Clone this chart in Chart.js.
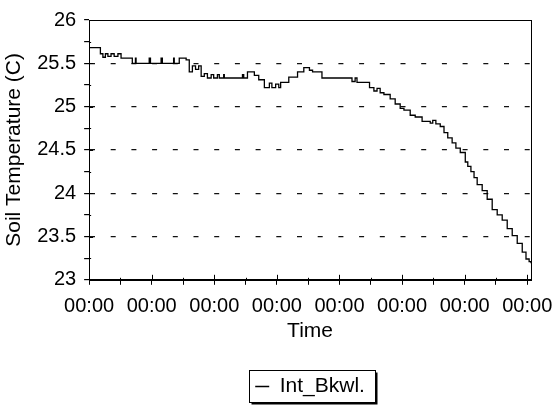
<!DOCTYPE html>
<html>
<head>
<meta charset="utf-8">
<script src="https://cdn.jsdelivr.net/npm/chart.js@4"></script>
<style>
  body { margin: 0; background: #fff; }
  #wrap { width: 558px; height: 418px; }
</style>
</head>
<body>
<div id="wrap"><canvas id="soilChart"></canvas></div>
<script>
// time axis position (in tick units) where each reading starts
const times = [
    0.00, 0.18, 0.22, 0.26, 0.30, 0.35, 0.40, 0.46, 0.51, 0.69, 0.74, 0.75, 0.96, 0.98,
    1.15, 1.17, 1.35, 1.36, 1.44, 1.55, 1.60, 1.65, 1.70, 1.75, 1.79, 1.84, 1.89, 1.95,
    1.99, 2.05, 2.08, 2.15, 2.16, 2.45, 2.47, 2.53, 2.64, 2.71, 2.80, 2.88, 2.92, 2.98,
    3.03, 3.06, 3.19, 3.33, 3.43, 3.52, 3.57, 3.72, 4.20, 4.25, 4.28, 4.48, 4.55, 4.60,
    4.65, 4.71, 4.81, 4.89, 4.97, 5.03, 5.13, 5.21, 5.32, 5.45, 5.49, 5.54, 5.61, 5.67,
    5.73, 5.80, 5.86, 5.93, 6.01, 6.05, 6.10, 6.15, 6.20, 6.28, 6.36, 6.44, 6.52, 6.60,
    6.68, 6.76, 6.84, 6.92, 6.98, 7.03, 7.06
];
const temps = [
    25.68, 25.61, 25.57, 25.61, 25.58, 25.61, 25.58, 25.61, 25.56, 25.50, 25.56, 25.50, 25.56, 25.50,
    25.56, 25.50, 25.56, 25.50, 25.56, 25.54, 25.40, 25.47, 25.43, 25.47, 25.35, 25.38, 25.33, 25.37,
    25.33, 25.37, 25.33, 25.37, 25.33, 25.37, 25.33, 25.40, 25.36, 25.31, 25.22, 25.27, 25.22, 25.26,
    25.22, 25.28, 25.34, 25.40, 25.45, 25.42, 25.40, 25.33, 25.29, 25.33, 25.28, 25.22, 25.18, 25.21,
    25.16, 25.14, 25.09, 25.03, 24.98, 24.96, 24.90, 24.88, 24.83, 24.81, 24.84, 24.80, 24.77, 24.70,
    24.64, 24.58, 24.52, 24.47, 24.36, 24.31, 24.25, 24.18, 24.10, 24.03, 23.93, 23.81, 23.75, 23.69,
    23.59, 23.51, 23.42, 23.32, 23.24, 23.21, 23.19
];
const tickLabels = ['00:00', '00:00', '00:00', '00:00', '00:00', '00:00', '00:00', '00:00'];

const FONT = "'Liberation Sans', Arial, Helvetica, sans-serif";

const isStep = (v, s) => Math.abs(v / s - Math.round(v / s)) < 1e-6;

// plot frame, inner half of the crossing tick marks, boxed legend with a drop shadow
const framePlugin = {
    id: 'frame',
    beforeDraw(chart) {
        const ctx = chart.ctx;
        const hb = chart.legend.legendHitBoxes[0];
        if (!hb) return;
        const x = Math.round(hb.left - 6) + 0.5;
        const y = Math.round(hb.top - 6) + 0.5;
        const w = Math.round(hb.width + 16);
        const h = Math.round(hb.height + 11);
        ctx.save();
        ctx.fillStyle = '#000';
        ctx.fillRect(x + 2, y + 2, w, h);
        ctx.fillStyle = '#fff';
        ctx.fillRect(x, y, w, h);
        ctx.strokeStyle = '#000';
        ctx.lineWidth = 1;
        ctx.strokeRect(x, y, w, h);
        ctx.restore();
    },
    afterDraw(chart) {
        const ctx = chart.ctx;
        const a = chart.chartArea;
        const xs = chart.scales.x, ys = chart.scales.y;
        ctx.save();
        ctx.strokeStyle = '#000';
        ctx.lineWidth = 1;
        ctx.strokeRect(Math.round(a.left) + 0.5, Math.round(a.top) + 0.5,
            Math.round(a.right - a.left), Math.round(a.bottom - a.top));
        ctx.beginPath();
        xs.ticks.forEach((t) => {
            if (!isStep(t.value, 0.5)) return;
            const px = Math.round(xs.getPixelForValue(t.value)) + 0.5;
            const len = isStep(t.value, 1) ? 5 : 2;
            ctx.moveTo(px, a.bottom);
            ctx.lineTo(px, a.bottom - len);
        });
        ys.ticks.forEach((t) => {
            const py = Math.round(ys.getPixelForValue(t.value)) + 0.5;
            const len = isStep(t.value, 0.5) ? 4 : 2;
            ctx.moveTo(a.left, py);
            ctx.lineTo(a.left + len, py);
        });
        ctx.stroke();
        ctx.restore();
    }
};

const config = {
    type: 'line',
    data: {
        datasets: [{
            label: 'Int_Bkwl.',
            data: times.map((t, i) => ({ x: t, y: temps[i] })),
            borderColor: '#000',
            backgroundColor: '#000',
            borderWidth: 1.3,
            pointRadius: 0,
            stepped: true,
            fill: false
        }]
    },
    options: {
        responsive: true,
        maintainAspectRatio: false,
        animation: false,
        layout: { padding: { left: 0, right: 27, top: 18, bottom: 11 } },
        plugins: {
            tooltip: { enabled: false },
            legend: {
                position: 'bottom',
                fullSize: false,
                labels: {
                    usePointStyle: true,
                    pointStyle: 'line',
                    pointStyleWidth: 14,
                    color: '#000',
                    font: { family: FONT, size: 21 },
                    padding: 10
                }
            }
        },
        scales: {
            x: {
                type: 'linear',
                min: 0,
                max: 7.06,
                afterFit: (s) => { s.paddingLeft = 0; s.paddingRight = 0; },
                grid: {
                    drawOnChartArea: false,
                    tickLength: 5,
                    tickColor: (c) => (c.tick && isStep(c.tick.value, 0.5)) ? '#000' : 'rgba(0,0,0,0)'
                },
                border: { color: '#000', width: 1 },
                ticks: {
                    stepSize: 0.5,
                    includeBounds: false,
                    autoSkip: false,
                    maxRotation: 0,
                    padding: 10,
                    color: '#000',
                    font: { family: FONT, size: 20 },
                    callback: (v) => isStep(v, 1) ? tickLabels[Math.round(v)] : ''
                },
                title: {
                    display: true,
                    text: 'Time',
                    color: '#000',
                    font: { family: FONT, size: 21 },
                    padding: { top: -10, bottom: 22 }
                }
            },
            y: {
                min: 23,
                max: 26,
                grid: {
                    tickLength: 5,
                    lineWidth: 1.2,
                    color: (c) => {
                        const v = c.tick ? c.tick.value : 0;
                        return (isStep(v, 0.5) && v > 23.1 && v < 25.9) ? '#111' : 'rgba(0,0,0,0)';
                    },
                    tickColor: '#000'
                },
                border: { color: '#000', width: 1, dash: [5, 15.7] },
                ticks: {
                    stepSize: 0.25,
                    autoSkip: false,
                    padding: 8,
                    color: '#000',
                    font: { family: FONT, size: 20 },
                    callback: (v) => isStep(v, 0.5) ? String(v) : ''
                },
                title: {
                    display: true,
                    text: 'Soil Temperature (C)',
                    color: '#000',
                    font: { family: FONT, size: 21 },
                    padding: { top: 2, bottom: 2 }
                }
            }
        }
    },
    plugins: [framePlugin]
};

window.addEventListener('load', () => {
    new Chart(document.getElementById('soilChart'), config);
});
</script>
</body>
</html>
